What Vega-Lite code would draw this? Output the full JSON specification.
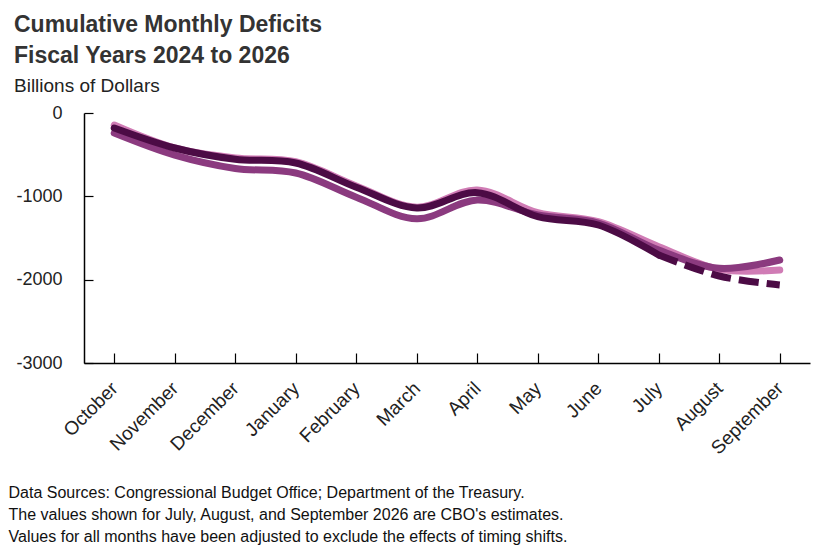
{
  "$schema": "https://vega.github.io/schema/vega-lite/v6.json",
  "autosize": "none",
  "width": 726,
  "height": 250,
  "padding": {"left": 84, "top": 113, "right": 15, "bottom": 187},
  "background": "white",
  "config": {
    "font": "Liberation Sans",
    "view": {"stroke": null}
  },
  "title": {
    "text": ["Cumulative Monthly Deficits", "Fiscal Years 2024 to 2026"],
    "subtitle": "Billions of Dollars",
    "anchor": "start",
    "frame": "group",
    "dx": -70,
    "offset": 8,
    "fontSize": 23,
    "fontWeight": "bold",
    "color": "#333333",
    "lineHeight": 31,
    "subtitleFontSize": 19,
    "subtitleColor": "#222222",
    "subtitlePadding": 9
  },
  "data": {
    "values": [
      {"month": "October", "series": "FY2024", "value": -145},
      {"month": "November", "series": "FY2024", "value": -420},
      {"month": "December", "series": "FY2024", "value": -540},
      {"month": "January", "series": "FY2024", "value": -585},
      {"month": "February", "series": "FY2024", "value": -875},
      {"month": "March", "series": "FY2024", "value": -1130},
      {"month": "April", "series": "FY2024", "value": -924},
      {"month": "May", "series": "FY2024", "value": -1196},
      {"month": "June", "series": "FY2024", "value": -1304},
      {"month": "July", "series": "FY2024", "value": -1604},
      {"month": "August", "series": "FY2024", "value": -1876},
      {"month": "September", "series": "FY2024", "value": -1884},
      {"month": "October", "series": "FY2025", "value": -240},
      {"month": "November", "series": "FY2025", "value": -505},
      {"month": "December", "series": "FY2025", "value": -665},
      {"month": "January", "series": "FY2025", "value": -720},
      {"month": "February", "series": "FY2025", "value": -1010},
      {"month": "March", "series": "FY2025", "value": -1270},
      {"month": "April", "series": "FY2025", "value": -1044},
      {"month": "May", "series": "FY2025", "value": -1224},
      {"month": "June", "series": "FY2025", "value": -1320},
      {"month": "July", "series": "FY2025", "value": -1644},
      {"month": "August", "series": "FY2025", "value": -1864},
      {"month": "September", "series": "FY2025", "value": -1764},
      {"month": "October", "series": "FY2026", "value": -180},
      {"month": "November", "series": "FY2026", "value": -420},
      {"month": "December", "series": "FY2026", "value": -555},
      {"month": "January", "series": "FY2026", "value": -600},
      {"month": "February", "series": "FY2026", "value": -890},
      {"month": "March", "series": "FY2026", "value": -1140},
      {"month": "April", "series": "FY2026", "value": -956},
      {"month": "May", "series": "FY2026", "value": -1244},
      {"month": "June", "series": "FY2026", "value": -1344},
      {"month": "July", "series": "FY2026", "value": -1704},
      {"month": "July", "series": "FY2026 estimate", "value": -1704},
      {"month": "August", "series": "FY2026 estimate", "value": -1956},
      {"month": "September", "series": "FY2026 estimate", "value": -2064}
    ]
  },
  "encoding": {
    "x": {
      "field": "month",
      "type": "ordinal",
      "sort": null,
      "scale": {"type": "point", "padding": 0.5},
      "axis": {
        "title": [
          "Data Sources: Congressional Budget Office; Department of the Treasury.",
          "The values shown for July, August, and September 2026 are CBO's estimates.",
          "Values for all months have been adjusted to exclude the effects of timing shifts."
        ],
        "titleFontSize": 16,
        "titleFontWeight": "normal",
        "titleColor": "#111111",
        "titleAnchor": "start",
        "titleAlign": "left",
        "titleBaseline": "top",
        "titleLineHeight": 22,
        "titleX": -76,
        "titleY": 121,
        "domainColor": "#000000",
        "domainWidth": 1.5,
        "tickColor": "#000000",
        "tickSize": -10,
        "tickWidth": 1.2,
        "labelAngle": -45,
        "labelAlign": "right",
        "labelBaseline": "middle",
        "labelFontSize": 19,
        "labelColor": "#222222",
        "labelPadding": 32
      }
    },
    "y": {
      "field": "value",
      "type": "quantitative",
      "scale": {"domain": [-3000, 0], "nice": false},
      "axis": {
        "title": null,
        "values": [0, -1000, -2000, -3000],
        "labelExpr": "datum.value == 0 ? '0' : '-' + abs(datum.value)",
        "grid": false,
        "domainColor": "#000000",
        "domainWidth": 1.5,
        "tickColor": "#000000",
        "tickSize": -9,
        "tickWidth": 1.2,
        "labelFontSize": 18,
        "labelColor": "#222222",
        "labelPadding": 31
      }
    },
    "color": {
      "field": "series",
      "type": "nominal",
      "scale": {
        "domain": ["FY2024", "FY2025", "FY2026", "FY2026 estimate"],
        "range": ["#D07CB5", "#8B3A7F", "#4C0B45", "#4C0B45"]
      },
      "legend": null
    }
  },
  "layer": [
    {
      "transform": [{"filter": "datum.series != 'FY2026 estimate'"}],
      "mark": {"type": "line", "interpolate": "catmull-rom", "strokeWidth": 7, "strokeCap": "round"}
    },
    {
      "transform": [{"filter": "datum.series == 'FY2026 estimate'"}],
      "mark": {"type": "line", "interpolate": "catmull-rom", "strokeWidth": 7, "strokeCap": "butt", "strokeDash": [20, 8]}
    }
  ]
}
